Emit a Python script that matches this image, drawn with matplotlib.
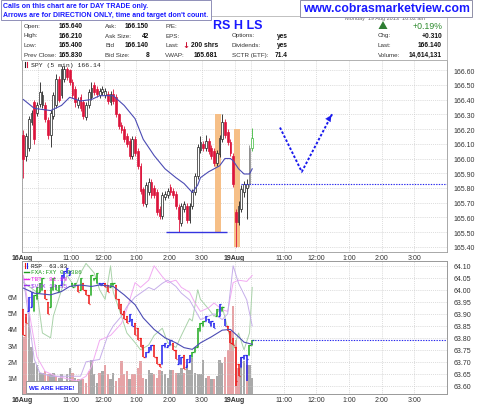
import matplotlib
matplotlib.use("Agg")
import matplotlib.pyplot as plt
from matplotlib.patches import Rectangle, Polygon
import numpy as np

plt.rcParams['font.family'] = ['Liberation Sans', 'DejaVu Sans']

# ---------------------------------------------------------------- data
day_labels = ['16Aug', '19Aug']
hour_labels = ['11:00', '12:00', '1:00', '2:00', '3:00']
bars_per_day = 78
total_bars = 156

# SPY 5-min candles (16 Aug full day + first bars of 19 Aug)
spy_open = [
    166.16, 166.02, 166.07, 166.25, 166.38, 166.31, 166.37, 166.36, 166.36, 166.26,
    166.16, 166.29, 166.36, 166.54, 166.43, 166.54, 166.61, 166.60, 166.52, 166.47,
    166.36, 166.42, 166.38, 166.28, 166.36, 166.42, 166.50, 166.47, 166.43, 166.45,
    166.43, 166.44, 166.38, 166.44, 166.42, 166.30, 166.23, 166.20, 166.15, 166.12,
    166.02, 166.13, 166.05, 165.95, 165.79, 165.69, 165.77, 165.84, 165.80, 165.77,
    165.66, 165.61, 165.74, 165.75, 165.81, 165.78, 165.76, 165.67, 165.56, 165.66,
    165.68, 165.58, 165.68, 165.77, 165.88, 166.06, 166.10, 166.07, 166.12, 166.07,
    166.05, 165.97, 166.03, 166.13, 166.25, 166.18, 166.11, 166.02,
    165.64, 165.57, 165.66, 165.77, 165.80, 165.83, 166.07]
spy_close = [
    166.00, 166.15, 166.27, 166.31, 166.13, 166.36, 166.45, 166.43, 166.27, 166.16,
    166.31, 166.43, 166.54, 166.40, 166.61, 166.61, 166.55, 166.52, 166.43, 166.38,
    166.40, 166.34, 166.29, 166.36, 166.45, 166.48, 166.45, 166.44, 166.46, 166.47,
    166.46, 166.39, 166.44, 166.39, 166.30, 166.22, 166.19, 166.13, 166.10, 166.02,
    166.13, 166.04, 165.95, 165.78, 165.70, 165.82, 165.84, 165.75, 165.75, 165.64,
    165.61, 165.75, 165.76, 165.78, 165.77, 165.75, 165.68, 165.59, 165.68, 165.69,
    165.58, 165.68, 165.77, 165.88, 166.08, 166.11, 166.07, 166.12, 166.05, 166.02,
    165.97, 166.04, 166.14, 166.25, 166.16, 166.11, 166.04, 165.83,
    165.57, 165.68, 165.79, 165.83, 165.83, 166.07, 166.14]
spy_high = [
    166.19, 166.17, 166.29, 166.33, 166.40, 166.38, 166.52, 166.46, 166.38, 166.28,
    166.33, 166.45, 166.57, 166.56, 166.63, 166.63, 166.62, 166.61, 166.54, 166.49,
    166.42, 166.44, 166.40, 166.38, 166.47, 166.52, 166.52, 166.49, 166.48, 166.49,
    166.48, 166.46, 166.46, 166.47, 166.44, 166.31, 166.25, 166.22, 166.17, 166.14,
    166.15, 166.15, 166.07, 165.97, 165.81, 165.84, 165.87, 165.86, 165.82, 165.79,
    165.68, 165.77, 165.78, 165.80, 165.83, 165.80, 165.78, 165.69, 165.70, 165.71,
    165.70, 165.70, 165.79, 165.90, 166.10, 166.15, 166.12, 166.16, 166.14, 166.09,
    166.07, 166.06, 166.16, 166.30, 166.27, 166.20, 166.13, 166.04,
    165.66, 165.71, 165.82, 165.85, 165.86, 166.09, 166.21]
spy_low = [
    165.87, 165.98, 166.05, 166.23, 166.10, 166.29, 166.35, 166.34, 166.25, 166.13,
    166.08, 166.27, 166.34, 166.38, 166.41, 166.52, 166.53, 166.50, 166.41, 166.35,
    166.34, 166.32, 166.27, 166.26, 166.34, 166.40, 166.43, 166.42, 166.41, 166.43,
    166.41, 166.37, 166.36, 166.37, 166.28, 166.20, 166.17, 166.11, 166.08, 166.00,
    166.00, 166.02, 165.93, 165.76, 165.68, 165.67, 165.75, 165.73, 165.73, 165.62,
    165.59, 165.59, 165.72, 165.73, 165.75, 165.73, 165.66, 165.50, 165.54, 165.64,
    165.56, 165.56, 165.66, 165.75, 165.86, 166.04, 166.05, 166.05, 166.03, 166.00,
    165.95, 165.95, 166.01, 166.11, 166.14, 166.09, 166.02, 165.81,
    165.40, 165.55, 165.64, 165.74, 165.59, 165.81, 166.05]
spy_ma_bar = [0, 4, 10, 14, 17, 21, 25, 28, 33, 37, 41, 44, 48, 52, 56, 59, 62, 64,
              65, 68, 72, 74, 76, 77, 79, 81, 83, 84]
spy_ma_val = [166.40, 166.34, 166.325, 166.36, 166.415, 166.39, 166.40, 166.426,
              166.426, 166.36, 166.27, 166.13, 166.02, 165.93, 165.87, 165.83, 165.77,
              165.82, 165.87, 165.91, 165.95, 166.00, 166.00, 165.985, 165.93, 165.895,
              165.895, 165.93]
spy_ticks = [165.40, 165.50, 165.60, 165.70, 165.80, 165.90, 166.00, 166.10, 166.20,
             166.30, 166.40, 166.50, 166.60]
spy_ylim = (165.366, 166.668)

# annotations in the price panel
support_level = 165.50
support_bars = (52.4, 74.9)
prev_close = 165.83
highlight_x0 = [70.5, 77.2]
highlight_x1 = [72.7, 79.4]
highlight_lo = [165.50, 165.40]
highlight_hi = [166.30, 166.20]
arrow_bar = [94.2, 102.2, 113.6]
arrow_price = [166.21, 165.91, 166.31]

# RSP lower panel
rsp_open = [
    63.92, 63.90, 63.91, 63.93, 63.91, 63.96, 63.99, 64.00, 64.00, 63.95,
    63.93, 64.00, 64.02, 63.99, 64.02, 64.05, 64.07, 64.06, 64.03, 64.02,
    64.02, 64.00, 64.03, 64.00, 63.98, 63.98, 64.04, 64.03, 64.03, 64.02,
    64.03, 64.02, 64.01, 64.02, 64.02, 63.96, 63.94, 63.91, 63.89, 63.87,
    63.88, 63.86, 63.84, 63.80, 63.77, 63.72, 63.74, 63.75, 63.77, 63.72,
    63.69, 63.69, 63.76, 63.76, 63.77, 63.78, 63.75, 63.69, 63.69, 63.73,
    63.68, 63.70, 63.72, 63.74, 63.76, 63.83, 63.85, 63.87, 63.88, 63.85,
    63.86, 63.89, 63.89, 63.91, 63.88, 63.85, 63.83, 63.80,
    63.76, 63.69, 63.68, 63.71, 63.73, 63.73, 63.77]
rsp_close = [
    63.81, 63.86, 63.97, 63.99, 63.98, 64.01, 64.03, 64.05, 63.96, 63.90,
    64.01, 64.05, 64.00, 64.02, 64.06, 64.08, 64.09, 64.08, 64.01, 64.03,
    63.99, 64.05, 64.00, 63.98, 63.94, 64.06, 64.05, 64.07, 64.02, 64.03,
    64.01, 63.99, 64.03, 64.03, 63.96, 63.92, 63.90, 63.88, 63.86, 63.90,
    63.85, 63.81, 63.79, 63.76, 63.72, 63.74, 63.76, 63.77, 63.72, 63.69,
    63.68, 63.77, 63.78, 63.77, 63.79, 63.75, 63.71, 63.73, 63.72, 63.67,
    63.71, 63.73, 63.74, 63.76, 63.84, 63.86, 63.87, 63.89, 63.86, 63.87,
    63.84, 63.92, 63.94, 63.93, 63.85, 63.83, 63.78, 63.77,
    63.62, 63.64, 63.72, 63.73, 63.71, 63.77, 63.79]
rsp_extra_low = {78: 63.60, 82: 63.62}
rsp_impulse = list("rrbbggggrr" "ggggbbbbgg" "rgrrrgggbb" "rrggrrrrrb"
                   "brrrrbbbrr" "rbbbbrrbbr" "bbgggggbbb" "bgbgbrrrrr" "bbbgg")
rsp_volume_m = [
    3.5, 4.7, 5.0, 2.9, 1.9, 1.8, 1.3, 1.3, 1.4, 1.2,
    1.2, 1.3, 1.1, 1.0, 1.2, 0.8, 1.2, 1.6, 1.3, 1.0,
    0.9, 0.9, 0.9, 0.7, 1.4, 2.1, 1.2, 0.7, 1.3, 1.4,
    1.8, 1.2, 0.9, 1.3, 0.8, 1.0, 2.0, 1.2, 1.4, 0.9,
    1.2, 1.2, 1.6, 2.0, 1.0, 0.9, 1.5, 1.3, 1.2, 1.0,
    1.5, 1.4, 1.2, 1.0, 1.5, 1.5, 1.3, 1.3, 1.6, 1.3,
    1.8, 1.5, 2.2, 1.3, 1.2, 1.2, 2.1, 1.0, 1.1, 0.9,
    0.9, 1.1, 2.1, 1.9, 2.3, 2.7, 3.9, 5.4,
    3.3, 1.6, 2.3, 2.0, 1.8, 1.8, 1.0]
rsp_ma_bar = [0, 4, 10, 14, 17, 21, 25, 28, 33, 37, 41, 44, 48, 52, 56, 59, 62, 65,
              69, 73, 76, 79, 81, 84]
rsp_ma_val = [64.007, 63.986, 63.979, 63.993, 64.014, 64.020, 64.014, 64.020, 64.014,
              63.979, 63.938, 63.883, 63.835, 63.800, 63.779, 63.759, 63.752, 63.779,
              63.804, 63.832, 63.835, 63.804, 63.782, 63.773]
rsp_prev_close = 63.79
fxafxy_bar = [0, 5, 7, 10, 11, 14, 16, 19, 21, 23, 26, 28, 30, 32, 33, 36, 38, 41, 43,
              46, 48, 51, 53, 56, 58, 61, 62, 64, 65, 68, 70, 73, 75, 77, 79, 81, 83, 84]
fxafxy_val = [64.03, 63.99, 63.82, 63.80, 63.89, 64.00, 64.06, 64.01, 64.07, 64.11,
              64.07, 64.00, 63.96, 64.10, 63.99, 63.89, 63.82, 63.78, 63.75, 63.77,
              63.81, 63.84, 63.78, 63.76, 63.81, 63.88, 63.87, 64.00, 63.96, 63.92,
              63.89, 63.93, 63.84, 63.75, 63.82, 63.75, 63.82, 64.01]
tbt_bar = [0, 3, 5, 8, 12, 16, 20, 23, 25, 28, 32, 36, 38, 41, 43, 46, 48, 51, 53, 56,
           58, 61, 63, 65, 68, 70, 73, 75, 77, 79, 82, 84]
tbt_val = [64.06, 63.85, 63.72, 63.66, 63.64, 63.63, 63.62, 63.64, 63.68, 63.79,
           63.81, 63.86, 63.92, 64.03, 64.01, 64.04, 64.10, 64.055, 64.03, 64.04,
           64.01, 63.99, 63.945, 63.91, 63.925, 63.945, 63.917, 63.91, 64.03, 64.04,
           64.035, 64.06]
vix_bar = [0, 4, 6, 10, 16, 21, 23, 28, 31, 33, 36, 38, 41, 43, 46, 48, 51, 53, 56, 58,
           61, 63, 65, 68, 70, 73, 75, 77, 79, 82, 84]
vix_val = [64.05, 63.71, 63.655, 63.64, 63.64, 63.64, 63.70, 63.71, 63.81, 63.85,
           63.89, 63.93, 63.97, 63.986, 64.01, 64.00, 64.027, 64.04, 64.014, 63.986,
           63.958, 63.917, 63.876, 63.89, 63.90, 63.876, 63.90, 64.10, 64.027, 63.958,
           63.85]
rsp_ticks = [63.60, 63.65, 63.70, 63.75, 63.80, 63.85, 63.90, 63.95, 64.00, 64.05, 64.10]
rsp_ylim = (63.566, 64.12)
vol_ticks = [1, 2, 3, 4, 5, 6]
vol_ylim = (0, 8.17)

# header texts
notice_lines = ["Calls on this chart are for DAY TRADE only.",
                "Arrows are for DIRECTION ONLY, time and target don't count."]
website = "www.cobrasmarketview.com"
title = "RS H LS"
date_text = "Monday  19 Aug 2013  10:02 am"
col1 = [("Open:", "165.640"), ("High:", "166.210"), ("Low:", "165.400"), ("Prev Close:", "165.830")]
col2 = [("Ask:", "166.150"), ("Ask Size:", "42"), ("Bid", "166.140"), ("Bid Size:", "8")]
col3 = [("P/E:", ""), ("EPS:", ""), ("Last:", "200 shrs"), ("VWAP:", "165.681")]
col4 = [("Options:", "yes"), ("Dividends:", "yes"), ("SCTR (ETF):", "71.4")]
col5 = [("Chg:", "+0.310"), ("Last:", "166.140"), ("Volume:", "14,614,131")]
pct_change = "+0.19%"
spy_label = "SPY (5 min) 166.14"
legend_items = [("RSP  63.83", '#111111'), ("FXA:FXY 0.9386", '#1f9a1f'),
                ("TBT  81.80", '#ee22ee'), ("$VIX 14.35", '#9933ee')]
here_text = "WE ARE HERE!"

# ---------------------------------------------------------------- figure
W, H = 480, 406
fig = plt.figure(figsize=(W / 100, H / 100), dpi=100)
fig.patch.set_facecolor('white')


def X(px):
    return px / W


def Y(py):
    return 1 - py / H


def ftext(x, y, s, **kw):
    kw.setdefault('va', 'center')
    return fig.text(X(x), Y(y), s, **kw)


def fbox(x0, y0, x1, y1, **kw):
    r = Rectangle((X(x0), Y(y1)), X(x1) - X(x0), Y(y0) - Y(y1),
                  transform=fig.transFigure, **kw)
    fig.add_artist(r)
    return r


L, R = 22, 447
ax = fig.add_axes([X(L), Y(253), X(R) - X(L), Y(61) - Y(253)])
axv = fig.add_axes([X(L), Y(395), X(R) - X(L), Y(262) - Y(395)])
axp = axv.twinx()

GRID = dict(color='#c9c9c9', linestyle=(0, (1, 1.5)), linewidth=0.55)
SPINE = '#9a9a9a'
TICKC = '#333333'

major_pos, major_lab, minor_pos = [], [], []
for d, dl in enumerate(day_labels):
    base = d * bars_per_day - 0.5
    major_pos.append(base)
    major_lab.append(dl)
    minor_pos.append(base + 6)
    for k, hl in enumerate(hour_labels):
        major_pos.append(base + 18 + 12 * k)
        major_lab.append(hl)

for a in (ax, axv):
    a.set_xlim(-0.5, total_bars - 0.5)
    a.set_xticks(major_pos)
    a.set_xticklabels(major_lab)
    a.set_xticks(minor_pos, minor=True)
    a.tick_params(axis='x', which='both', length=0, pad=1.2, labelsize=5.0, colors=TICKC)
    for lbl in a.get_xticklabels():
        if lbl.get_text() in day_labels:
            lbl.set_fontweight('bold')
    a.grid(True, which='both', axis='x', **GRID)
    a.set_axisbelow(True)
for a in (ax, axv, axp):
    for s in a.spines.values():
        s.set_color(SPINE)
        s.set_linewidth(0.6)

# ---------------- top panel: SPY
ax.set_ylim(*spy_ylim)
ax.set_yticks(spy_ticks)
ax.set_yticklabels([f"{v:.2f}" for v in spy_ticks])
ax.yaxis.tick_right()
ax.tick_params(axis='y', length=0, pad=4.5, labelsize=5.0, colors=TICKC)
ax.grid(True, which='major', axis='y', **GRID)

for x0, x1, lo, hi in zip(highlight_x0, highlight_x1, highlight_lo, highlight_hi):
    ax.add_patch(Rectangle((x0, lo), x1 - x0, hi - lo, facecolor='#f6bf87',
                           edgecolor='none', zorder=2))

o = np.array(spy_open)
c = np.array(spy_close)
hi_ = np.array(spy_high)
lo_ = np.array(spy_low)
for i in range(len(o)):
    if i == 83:
        fc, ec = '#9e9e9e', '#8c8c8c'
    elif i == 84:
        fc, ec = 'white', '#3cb83c'
    elif c[i] >= o[i]:
        fc, ec = 'white', '#1e1e1e'
    else:
        fc, ec = '#dc143c', '#dc143c'
    wick_c = '#dc143c' if (c[i] < o[i] and i not in (83, 84)) else ec
    ax.vlines(i, lo_[i], hi_[i], color=wick_c, lw=0.6, zorder=3)
    body = max(abs(c[i] - o[i]), 0.006)
    ax.bar(i, body, bottom=min(o[i], c[i]), width=0.66, facecolor=fc,
           edgecolor=ec, linewidth=0.5, zorder=4)

ax.plot(spy_ma_bar, spy_ma_val, color='#4b4bb4', lw=0.8, zorder=5)
ax.hlines(support_level, support_bars[0], support_bars[1], color='#3434e0', lw=1.0, zorder=5)
ax.hlines(prev_close, 80, total_bars - 0.5, color='#2424ee', lw=0.8,
          linestyles=(0, (1.2, 1.2)), zorder=5)
ax.plot(arrow_bar, arrow_price, color='#1a1aee', lw=1.4, linestyle=(0, (1.3, 1.0)), zorder=6)
ax.annotate('', xy=(arrow_bar[-1], arrow_price[-1]),
            xytext=(arrow_bar[-1] - 1.2, arrow_price[-1] - 0.035),
            arrowprops=dict(arrowstyle='-|>', color='#1a1aee', lw=0.1,
                            mutation_scale=11), zorder=6)

ftext(31, 65.5, spy_label, fontsize=4.6, family=['Liberation Mono', 'DejaVu Sans Mono'],
      color='#222222', zorder=6)
fig.add_artist(plt.Line2D([X(24.5), X(24.5)], [Y(63), Y(68)], transform=fig.transFigure,
                          color='#222222', lw=0.8))
fig.add_artist(plt.Line2D([X(27), X(27)], [Y(63), Y(68)], transform=fig.transFigure,
                          color='#dc143c', lw=0.8))

# ---------------- bottom panel: volume + RSP
vidx = np.arange(len(rsp_volume_m))
ro = np.array(rsp_open)
rc = np.array(rsp_close)
vcol = ['#e6a3a6' if rc[i] < ro[i] else '#a9a9a9' for i in vidx]
axv.bar(vidx, rsp_volume_m, width=0.86, color=vcol, edgecolor='none', zorder=1)
axv.set_ylim(*vol_ylim)
axv.set_yticks(vol_ticks)
axv.set_yticklabels([f"{v}M" for v in vol_ticks])
axv.tick_params(axis='y', length=0, pad=3, labelsize=5.0, colors=TICKC)

axp.set_ylim(*rsp_ylim)
axp.set_yticks(rsp_ticks)
axp.set_yticklabels([f"{v:.2f}" for v in rsp_ticks])
axp.tick_params(axis='y', length=0, pad=4.5, labelsize=5.0, colors=TICKC)
axp.grid(True, axis='y', **GRID)
axp.set_xlim(-0.5, total_bars - 0.5)

axp.plot(fxafxy_bar, fxafxy_val, color='#a9d2a9', lw=0.7, zorder=2)
axp.plot(tbt_bar, tbt_val, color='#f2aaf2', lw=0.7, zorder=2)
axp.plot(vix_bar, vix_val, color='#c6aeea', lw=0.7, zorder=2)

icol = {'g': '#1faa1f', 'b': '#2020ee', 'r': '#ee1414'}
for i in vidx:
    col = icol[rsp_impulse[i]]
    lo = min(ro[i], rc[i], rsp_extra_low.get(i, 99))
    hi = max(ro[i], rc[i])
    axp.vlines(i, lo, hi, color=col, lw=1.1, zorder=4)
    axp.hlines(ro[i], i - 0.5, i, color=col, lw=0.9, zorder=4)
    axp.hlines(rc[i], i, i + 0.5, color=col, lw=0.9, zorder=4)

axp.plot(rsp_ma_bar, rsp_ma_val, color='#4b4bb4', lw=0.8, zorder=5)
axp.hlines(rsp_prev_close, 84, total_bars - 0.5, color='#2424ee', lw=0.8,
           linestyles=(0, (1.2, 1.2)), zorder=5)

# legend of lower panel
leg_y = [266.5, 273, 279.5, 286]
for (txt, col), yy in zip(legend_items, leg_y):
    ftext(31, yy, txt, fontsize=4.3, color=col,
          family=['Liberation Mono', 'DejaVu Sans Mono'], zorder=6)
fig.add_artist(plt.Line2D([X(24.5), X(24.5)], [Y(264), Y(269)], transform=fig.transFigure,
                          color='#ee1414', lw=0.8))
fig.add_artist(plt.Line2D([X(27), X(27)], [Y(264), Y(269)], transform=fig.transFigure,
                          color='#2020ee', lw=0.8))
for (txt, col), yy in list(zip(legend_items, leg_y))[1:]:
    fig.add_artist(plt.Line2D([X(23.5), X(29)], [Y(yy), Y(yy)], transform=fig.transFigure,
                              color=col, lw=1.0))

fbox(26, 382, 78, 394, facecolor='white', edgecolor='#8c8c8c', lw=0.6, zorder=5)
ftext(29, 388.2, here_text, fontsize=4.5, color='#1a1aff', fontweight='bold', zorder=6)

# ---------------- header
fbox(21, 17, R, 61, facecolor='none', edgecolor='#b5b5b5', lw=0.6, zorder=1)
ftext(345, 18.5, date_text, fontsize=4.0, color='#666666', zorder=2)

fbox(0.5, 0.5, 211, 21, facecolor='white', edgecolor='#8f8fb8', lw=0.7, zorder=5)
ftext(3, 6.8, notice_lines[0], fontsize=5.0, color='#1a1aff', fontweight='bold', zorder=6)
ftext(3, 15.3, notice_lines[1], fontsize=5.0, color='#1a1aff', fontweight='bold', zorder=6)

fbox(300, 0.5, 472, 17.5, facecolor='white', edgecolor='#8f8fa8', lw=0.7, zorder=5)
ftext(386, 9, website, fontsize=8.8, color='#1a1aff', fontweight='bold', ha='center',
      zorder=6)

ftext(238, 26, title, fontsize=9.0, color='#1a1aff', fontweight='bold', ha='center',
      zorder=6)

rows_y = [26.7, 36.0, 45.7, 55.3]
LAB = dict(fontsize=4.5, color='#333333', zorder=6)
VAL = dict(fontsize=4.8, color='#111111', fontweight='bold', ha='right', zorder=6)
for (lab, val), yy in zip(col1, rows_y):
    ftext(24, yy, lab, **LAB)
    ftext(83, yy, val, **VAL)
for (lab, val), yy in zip(col2, rows_y):
    ftext(105, yy, lab, **LAB)
    ftext(149, yy, val, **VAL)
for (lab, val), yy in zip(col3, rows_y):
    ftext(165, yy, lab, **LAB)
    if val:
        ftext(218, yy, val, **VAL)
ftext(185.5, rows_y[2], "\u2193", fontsize=6.0, color='#cc1133', fontweight='bold',
      ha='center', family=['DejaVu Sans'], zorder=6)
for (lab, val), yy in zip(col4, rows_y[1:]):
    ftext(232, yy, lab, **LAB)
    ftext(288, yy, val, **VAL)
for (lab, val), yy in zip(col5, rows_y[1:]):
    ftext(378, yy, lab, **LAB)
    ftext(442, yy, val, **VAL)
ftext(442, rows_y[0], pct_change, fontsize=6.3, color='#2e8b2e', ha='right', zorder=6)
tri = Polygon([[X(378.5), Y(30)], [X(387.5), Y(30)], [X(383), Y(22)]], closed=True,
              transform=fig.transFigure, facecolor='#2e7d32', edgecolor='none', zorder=6)
fig.add_artist(tri)

fig.savefig("out.png", dpi=100, facecolor='white')
